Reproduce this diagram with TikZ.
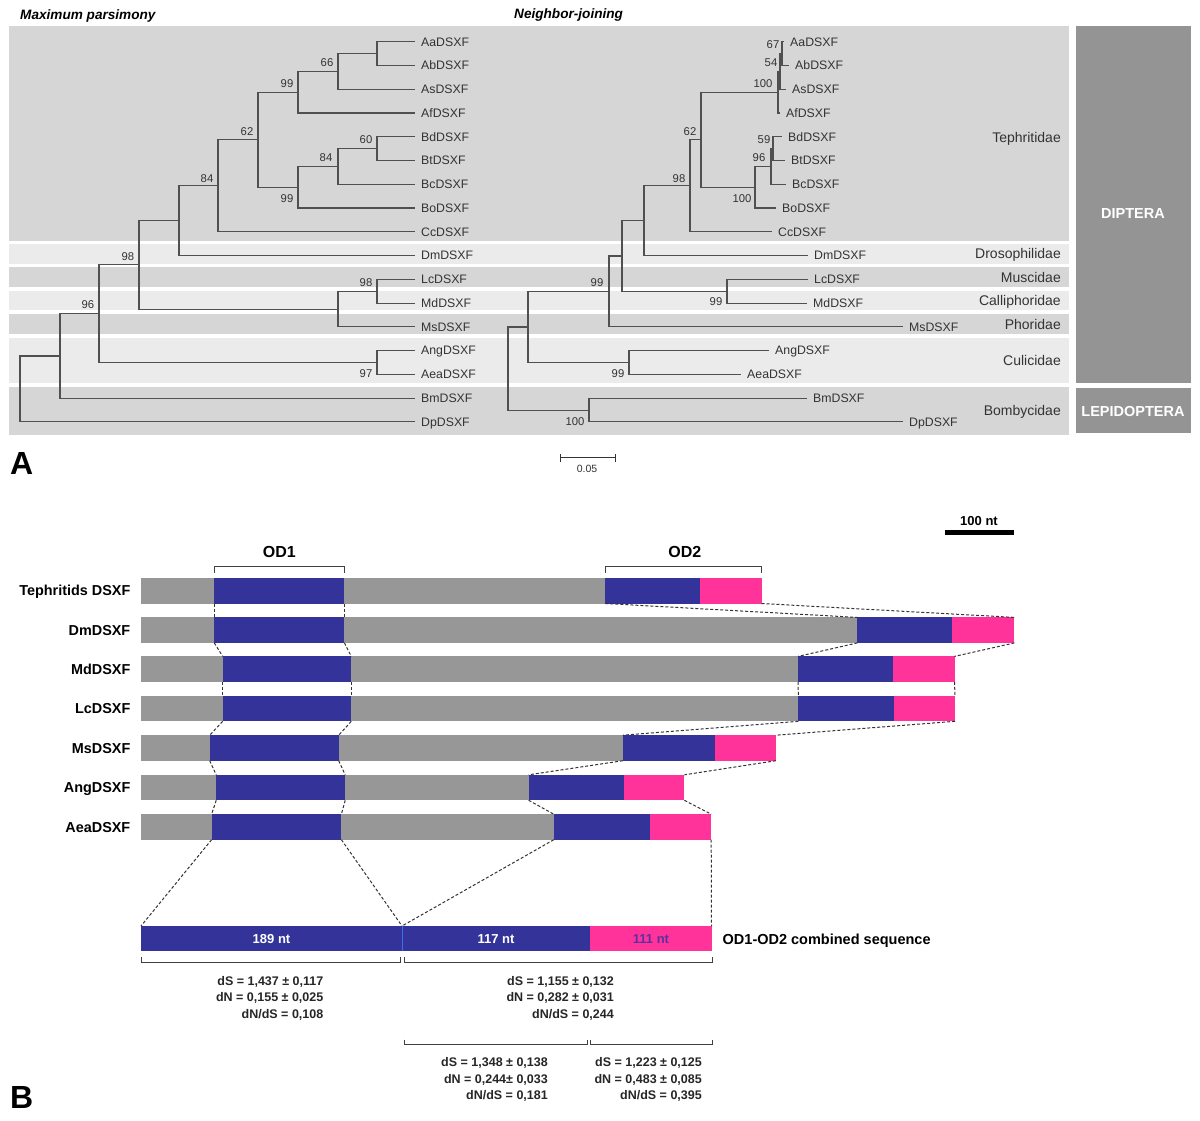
\documentclass[tikz,border=0pt]{standalone}
\usepackage{fontspec}
\setmainfont{Liberation Sans}
\definecolor{bandD}{HTML}{D6D6D6}
\definecolor{bandL}{HTML}{EBEBEB}
\definecolor{ordc}{HTML}{949494}
\definecolor{treec}{HTML}{505050}
\definecolor{txt}{HTML}{333333}
\definecolor{bl}{HTML}{333399}
\definecolor{pk}{HTML}{FF3399}
\definecolor{gb}{HTML}{979797}
\definecolor{dashc}{HTML}{333333}
\definecolor{pur}{HTML}{5A32A0}
\begin{document}
\begin{tikzpicture}[x=1pt,y=-1pt,
  br/.style={draw=treec, line width=1.1pt},
  leaf/.style={font=\fontsize{12.3}{14}\selectfont, text=txt, anchor=west, inner sep=0pt, text height=8.8pt, text depth=0pt},
  boot/.style={font=\fontsize{11.3}{13}\selectfont, text=txt, inner sep=0pt, text height=8.1pt, text depth=0pt},
  fam/.style={font=\fontsize{14}{16}\selectfont, text=txt, anchor=east, inner sep=0pt, text height=10pt, text depth=0pt},
  ordl/.style={font=\bfseries\fontsize{14.5}{16}\selectfont, text=white, inner sep=0pt, text height=10.4pt, text depth=0pt},
  ttl/.style={font=\bfseries\itshape\fontsize{13.6}{15}\selectfont, anchor=west, inner sep=0pt, text height=9.8pt, text depth=0pt},
  panel/.style={font=\bfseries\fontsize{32}{34}\selectfont, anchor=west, inner sep=0pt, text height=23pt, text depth=0pt},
  rowl/.style={font=\bfseries\fontsize{14.4}{16}\selectfont, anchor=east, inner sep=0pt, text height=10.4pt, text depth=0pt},
  odl/.style={font=\bfseries\fontsize{16}{18}\selectfont, inner sep=0pt, text height=11.5pt, text depth=0pt},
  stat/.style={font=\bfseries\fontsize{12.5}{14}\selectfont, text=black!85, anchor=east, inner sep=0pt, text height=9pt, text depth=0pt},
  ntl/.style={font=\bfseries\fontsize{13}{15}\selectfont, inner sep=0pt, text height=9.3pt, text depth=0pt},
  dsh/.style={draw=dashc, line width=1pt, dash pattern=on 3pt off 2pt},
  brk/.style={draw=black!75, line width=0.9pt}
]
\useasboundingbox (0,0) rectangle (1200,1120);
\fill[white] (0,0) rectangle (1200,1120);

% ---------------- Panel A ----------------
\node[ttl] (tmp) at (20,15) {Maximum parsimony};
\node[ttl] (tnj) at (514,14) {Neighbor-joining};

\fill[bandD] (9,26) rectangle (1069,241);
\fill[bandL] (9,244) rectangle (1069,263.5);
\fill[bandD] (9,267) rectangle (1069,286.5);
\fill[bandL] (9,290.5) rectangle (1069,310);
\fill[bandD] (9,314) rectangle (1069,333.5);
\fill[bandL] (9,337.5) rectangle (1069,383);
\fill[bandD] (9,387) rectangle (1069,435);
\fill[ordc] (1076,26) rectangle (1191,383);
\fill[ordc] (1076,388) rectangle (1191,433);
\node[ordl] (dip) at (1133,213) {DIPTERA};
\node[ordl] (lep) at (1133,411) {LEPIDOPTERA};

\node[fam] (f1) at (1061,137) {Tephritidae};
\node[fam] (f2) at (1061,253.5) {Drosophilidae};
\node[fam] (f3) at (1061,277) {Muscidae};
\node[fam] (f4) at (1061,300.5) {Calliphoridae};
\node[fam] (f5) at (1061,324) {Phoridae};
\node[fam] (f6) at (1061,360) {Culicidae};
\node[fam] (f7) at (1061,410) {Bombycidae};

% MP leaves
\foreach \n [count=\i from 0] in {Aa,Ab,As,Af,Bd,Bt,Bc,Bo,Cc,Dm,Lc,Md,Ms,Ang,Aea,Bm,Dp}{
  \pgfmathsetmacro\yy{41.7+23.76*\i}
  \coordinate (mp\n) at (415,\yy);
  \node[leaf] (mpl\n) at (421,\yy) {\n DSXF};
}
% MP internal nodes
\coordinate (m1) at (377,53.6);
\coordinate (m2) at (338,71.4);
\coordinate (m3) at (298,92.2);
\coordinate (m4) at (377,148.6);
\coordinate (m5) at (338,166.5);
\coordinate (m6) at (298,187.2);
\coordinate (m7) at (258,139.7);
\coordinate (m8) at (218,185.8);
\coordinate (m9) at (179,220.7);
\coordinate (m10) at (377,291.3);
\coordinate (m11) at (338,309.1);
\coordinate (m12) at (139,264.9);
\coordinate (m13) at (377,362.6);
\coordinate (m14) at (99,313.7);
\coordinate (m15) at (60,356);
\coordinate (m16) at (20,389);
\draw[br] (mpAa) -| (m1) |- (mpAb);
\draw[br] (m1) -| (m2) |- (mpAs);
\draw[br] (m2) -| (m3) |- (mpAf);
\draw[br] (mpBd) -| (m4) |- (mpBt);
\draw[br] (m4) -| (m5) |- (mpBc);
\draw[br] (m5) -| (m6) |- (mpBo);
\draw[br] (m3) -| (m7) |- (m6);
\draw[br] (m7) -| (m8) |- (mpCc);
\draw[br] (m8) -| (m9) |- (mpDm);
\draw[br] (mpLc) -| (m10) |- (mpMd);
\draw[br] (m10) -| (m11) |- (mpMs);
\draw[br] (m9) -| (m12) |- (m11);
\draw[br] (mpAng) -| (m13) |- (mpAea);
\draw[br] (m12) -| (m14) |- (m13);
\draw[br] (m14) -| (m15) |- (mpBm);
\draw[br] (m15) -| (m16) |- (mpDp);
% MP bootstrap
\node[boot] (b1) at (327,62) {66};
\node[boot] (b2) at (287,83) {99};
\node[boot] (b3) at (247,131) {62};
\node[boot] (b4) at (366,139) {60};
\node[boot] (b5) at (326,157) {84};
\node[boot] (b6) at (287,198) {99};
\node[boot] (b7) at (207,178) {84};
\node[boot] (b8) at (128,256) {98};
\node[boot] (b9) at (366,282) {98};
\node[boot] (b10) at (88,304) {96};
\node[boot] (b11) at (366,373) {97};

% NJ leaves
\foreach \n/\tx [count=\i from 0] in {Aa/784,Ab/789,As/786,Af/780,Bd/782,Bt/785,Bc/786,Bo/776,Cc/772,Dm/808,Lc/808,Md/807,Ms/903,Ang/769,Aea/741,Bm/807,Dp/903}{
  \pgfmathsetmacro\yy{41.7+23.76*\i}
  \coordinate (nj\n) at (\tx,\yy);
  \node[leaf] (njl\n) at (\tx+6,\yy) {\n DSXF};
}
\coordinate (j1) at (782,53.6);
\coordinate (j2) at (780,71.4);
\coordinate (j3) at (778,92.2);
\coordinate (j4) at (773,148.6);
\coordinate (j5) at (771,166.5);
\coordinate (j6) at (755,187.2);
\coordinate (j7) at (701,139.7);
\coordinate (j8) at (690,185.8);
\coordinate (j9) at (644,220.7);
\coordinate (j10) at (727,291.3);
\coordinate (j11) at (622,256);
\coordinate (j12) at (609,291.5);
\coordinate (j13) at (629,362.6);
\coordinate (j14) at (528,327);
\coordinate (j15) at (589,410.1);
\coordinate (j16) at (508,368.6);
\draw[br] (njAa) -| (j1) |- (njAb);
\draw[br] (j1) -| (j2) |- (njAs);
\draw[br] (j2) -| (j3) |- (njAf);
\draw[br] (njBd) -| (j4) |- (njBt);
\draw[br] (j4) -| (j5) |- (njBc);
\draw[br] (j5) -| (j6) |- (njBo);
\draw[br] (j3) -| (j7) |- (j6);
\draw[br] (j7) -| (j8) |- (njCc);
\draw[br] (j8) -| (j9) |- (njDm);
\draw[br] (njLc) -| (j10) |- (njMd);
\draw[br] (j9) -| (j11) |- (j10);
\draw[br] (j11) -| (j12) |- (njMs);
\draw[br] (njAng) -| (j13) |- (njAea);
\draw[br] (j12) -| (j14) |- (j13);
\draw[br] (njBm) -| (j15) |- (njDp);
\draw[br] (j14) -| (j16) |- (j15);
% NJ bootstrap
\node[boot] (c1) at (773,44) {67};
\node[boot] (c2) at (771,62) {54};
\node[boot] (c3) at (763,83) {100};
\node[boot] (c4) at (690,131) {62};
\node[boot] (c5) at (764,139) {59};
\node[boot] (c6) at (759,157) {96};
\node[boot] (c7) at (742,198) {100};
\node[boot] (c8) at (679,178) {98};
\node[boot] (c9) at (597,282) {99};
\node[boot] (c10) at (716,301) {99};
\node[boot] (c11) at (618,373) {99};
\node[boot] (c12) at (575,421) {100};

% scale bar
\coordinate (sb1) at (560,457.5);
\coordinate (sb2) at (615,457.5);
\draw[draw=black!80, line width=0.9pt] (sb1) -- (sb2);
\draw[draw=black!80, line width=0.9pt] ([yshift=-4pt]sb1) -- ([yshift=4pt]sb1);
\draw[draw=black!80, line width=0.9pt] ([yshift=-4pt]sb2) -- ([yshift=4pt]sb2);
\node[font=\fontsize{10.5}{12}\selectfont, text=txt, inner sep=0pt, text height=7.5pt, text depth=0pt] (sbl) at (587,468.5) {0.05};

\node[panel] (pA) at (10,463) {A};

% ---------------- Panel B ----------------
\node[panel] (pB) at (10,1097) {B};

\node[ntl] (nt100) at (979,521) {100 nt};
\fill[black] (945,530) rectangle (1014,535);

\node[odl] (od1) at (279.4,552) {OD1};
\node[odl] (od2) at (684.8,552) {OD2};
\draw[brk] (214.3,573) -- (214.3,566) -- (344.4,566) -- (344.4,573);
\draw[brk] (605.4,573) -- (605.4,566) -- (761.5,566) -- (761.5,573);

% rows: index / top / blue1 left / blue1 right / blue2 left / pink left / pink right / label
\foreach \i/\t/\a/\b/\c/\d/\e/\lab in {
  1/578/214.3/344.4/605.4/700/761.5/Tephritids DSXF,
  2/617.4/214.3/344.4/857.4/952.4/1014.4/DmDSXF,
  3/656.4/222.7/351.3/798/893/954.5/MdDSXF,
  4/695.8/222.7/351.3/798.4/893.8/955/LcDSXF,
  5/735.2/209.7/338.7/622.8/714.7/775.9/MsDSXF,
  6/774.8/216.2/345.2/528.7/624/684.4/AngDSXF,
  7/814.2/211.6/341.4/553.8/650/711.2/AeaDSXF}{
  \fill[gb] (141,\t) rectangle (\c,\t+25.5);
  \fill[bl] (\a,\t) rectangle (\b,\t+25.5);
  \fill[bl] (\c,\t) rectangle (\d,\t+25.5);
  \fill[pk] (\d,\t) rectangle (\e,\t+25.5);
  \coordinate (a\i t) at (\a,\t);   \coordinate (a\i b) at (\a,\t+25.5);
  \coordinate (b\i t) at (\b,\t);   \coordinate (b\i b) at (\b,\t+25.5);
  \coordinate (c\i t) at (\c,\t);   \coordinate (c\i b) at (\c,\t+25.5);
  \coordinate (e\i t) at (\e,\t);   \coordinate (e\i b) at (\e,\t+25.5);
  \node[rowl] (row\i) at (130.5,\t+12.75) {\lab};
}
\foreach \i/\j in {1/2,2/3,3/4,4/5,5/6,6/7}{
  \draw[dsh] (a\i b) -- (a\j t);
  \draw[dsh] (b\i b) -- (b\j t);
  \draw[dsh] (c\i b) -- (c\j t);
  \draw[dsh] (e\i b) -- (e\j t);
}

% combined sequence
\coordinate (cL) at (141,926);
\coordinate (cJ) at (402,926);
\coordinate (cR) at (711.5,926);
\fill[bl] (141,926) rectangle (589.5,951);
\fill[pk] (589.5,926) rectangle (712,951);
\draw[draw={rgb,255:red,60;green,110;blue,240}, line width=0.8pt] (402,926) -- (402,951);
\draw[dsh] (a7b) -- (cL);
\draw[dsh] (b7b) -- (cJ);
\draw[dsh] (c7b) -- (cJ);
\draw[dsh] (e7b) -- (cR);
\node[ntl, text=white] (n189) at (271.5,938.5) {189 nt};
\node[ntl, text=white] (n117) at (496,938.5) {117 nt};
\node[ntl, text=pur] (n111) at (651,938.5) {111 nt};
\node[font=\bfseries\fontsize{14.5}{16}\selectfont, anchor=west, inner sep=0pt, text height=10.4pt, text depth=0pt] (comb) at (722.5,939) {OD1-OD2 combined sequence};

% brackets below
\draw[brk] (141,957) -- (141,962) -- (400.7,962) -- (400.7,957);
\draw[brk] (404,957) -- (404,962) -- (712,962) -- (712,957);
\draw[brk] (404,1039.5) -- (404,1044.5) -- (587.7,1044.5) -- (587.7,1039.5);
\draw[brk] (590.5,1039.5) -- (590.5,1044.5) -- (712,1044.5) -- (712,1039.5);

% statistics
\node[stat] (s1a) at (323.5,980.7) {dS = 1,437 ± 0,117};
\node[stat] (s1b) at (323.5,997.4) {dN = 0,155 ± 0,025};
\node[stat] (s1c) at (323.5,1014.2) {dN/dS = 0,108};
\node[stat] (s2a) at (614,980.7) {dS = 1,155 ± 0,132};
\node[stat] (s2b) at (614,997.4) {dN = 0,282 ± 0,031};
\node[stat] (s2c) at (614,1014.2) {dN/dS = 0,244};
\node[stat] (s3a) at (548,1061.7) {dS = 1,348 ± 0,138};
\node[stat] (s3b) at (548,1078.5) {dN = 0,244± 0,033};
\node[stat] (s3c) at (548,1095.2) {dN/dS = 0,181};
\node[stat] (s4a) at (702,1061.7) {dS = 1,223 ± 0,125};
\node[stat] (s4b) at (702,1078.5) {dN = 0,483 ± 0,085};
\node[stat] (s4c) at (702,1095.2) {dN/dS = 0,395};
\end{tikzpicture}
\end{document}
